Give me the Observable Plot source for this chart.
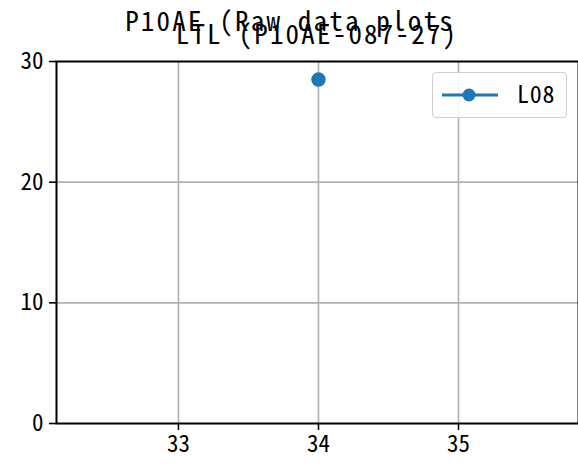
<!DOCTYPE html>
<html><head><meta charset="utf-8">
<script src="https://cdn.jsdelivr.net/npm/d3@7"></script>
<script src="https://cdn.jsdelivr.net/npm/@observablehq/plot@0.6"></script>
<style>
body{margin:0;background:#fff;}
#wrap{position:relative;width:578px;height:465px;overflow:hidden;font-family:"Noto Sans Mono CJK JP","Noto Sans CJK JP",monospace;}
.t{position:absolute;font-size:27px;line-height:1;color:#000;white-space:pre;letter-spacing:2.2px;text-align:center;}
#legend{position:absolute;left:432px;top:72px;width:135px;height:46px;border:1px solid #d0d0d0;border-radius:4px;background:rgba(255,255,255,0.85);box-sizing:border-box;}
#legend span{position:absolute;left:84px;top:8px;font-size:24px;line-height:1;letter-spacing:0.8px;}
</style></head>
<body><div id="wrap"></div>
<script>
const seriesName = "L08";
const xs = [34];
const ys = [28.5];
const xTicks = [33, 34, 35];
const yTicks = [0, 10, 20, 30];
const suptitle = "P10AE (Raw data plots";
const title = "LTL (P10AE-087-27)";
const data = xs.map((x, i) => ({x, y: ys[i]}));
const blue = "#1f77b4";
const W = 578, H = 465, mL = 56, mR = 0, mT = 61, mB = 42;
const xDom = [32.129, 35.857];
const ff = '"Noto Sans Mono CJK JP", "Noto Sans CJK JP", monospace';

const plot = Plot.plot({
  width: W, height: H,
  marginLeft: mL, marginRight: mR, marginTop: mT, marginBottom: mB,
  style: {fontFamily: ff, fontSize: "23px", color: "#000", background: "#fff"},
  x: {domain: xDom, label: null},
  y: {domain: [0, 30], label: null},
  marks: [
    Plot.ruleX(xTicks, {stroke: "#b0b0b0", strokeWidth: 1.6}),
    Plot.ruleY(yTicks.filter(d => d > 0 && d < 30), {stroke: "#b0b0b0", strokeWidth: 1.6}),
    Plot.axisX({ticks: xTicks, tickSize: 7, tickPadding: 5, strokeWidth: 1.6, fontSize: 23, tickFormat: d => d}),
    Plot.axisY({ticks: yTicks, tickSize: 7, tickPadding: 6, strokeWidth: 1.6, fontSize: 23}),
    Plot.frame({stroke: "#000", strokeWidth: 2}),
    Plot.dot(data, {x: "x", y: "y", r: 6.5, fill: blue, stroke: blue})
  ]
});
const wrap = document.getElementById("wrap");
wrap.appendChild(plot);
function centered(text, cx, top) {
  const d = document.createElement("div");
  d.className = "t";
  d.style.top = top + "px";
  d.style.left = (cx - 250) + "px";
  d.style.width = "500px";
  d.textContent = text;
  wrap.appendChild(d);
}
centered(suptitle, 289 + 1, 6);
centered(title, 316 + 1, 19);
const lg = document.createElement("div");
lg.id = "legend";
lg.innerHTML = `<svg width="80" height="44" style="position:absolute;left:0;top:0"><line x1="9" x2="65" y1="22" y2="22" stroke="${blue}" stroke-width="3"/><circle cx="36" cy="22" r="6.5" fill="${blue}"/></svg><span>${seriesName}</span>`;
wrap.appendChild(lg);
</script></body></html>
